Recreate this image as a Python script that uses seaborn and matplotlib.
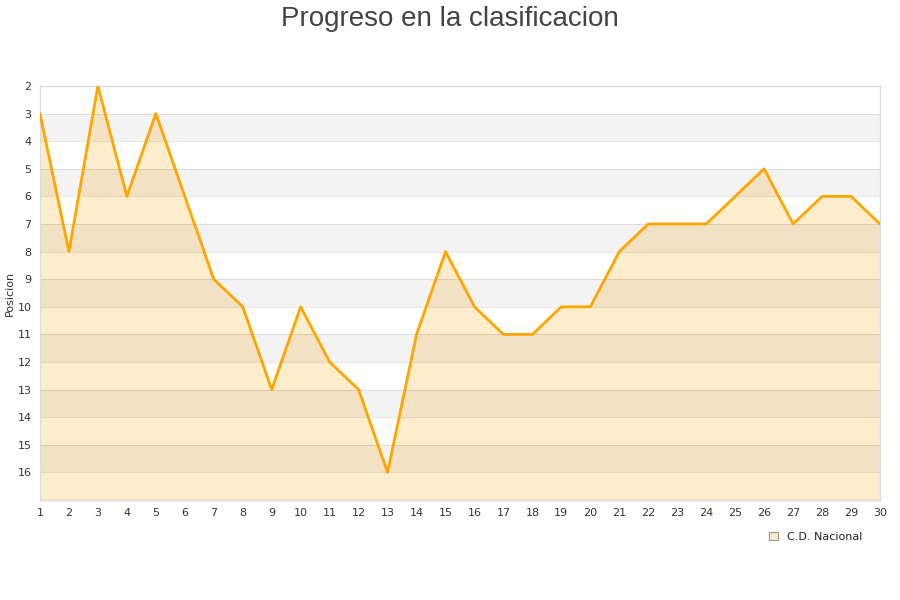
import matplotlib
matplotlib.use("Agg")
import matplotlib.pyplot as plt
import seaborn as sns
import pandas as pd

# Datos de la clasificacion por jornada
jornadas = list(range(1, 31))
posiciones = [3, 8, 2, 6, 3, 6, 9, 10, 13, 10, 12, 13, 16, 11, 8,
              10, 11, 11, 10, 10, 8, 7, 7, 7, 6, 5, 7, 6, 6, 7]
equipo = "C.D. Nacional"

df = pd.DataFrame({"jornada": jornadas, "posicion": posiciones})

sns.set_style("white")
plt.rcParams['font.family'] = ['DejaVu Sans']

fig = plt.figure(figsize=(9, 6), dpi=100)
ax = fig.add_axes([0.0444, 0.1667, 0.9334, 0.69])

y_min, y_max = 2, 17

# area bajo la linea
ax.fill_between(df["jornada"], df["posicion"], y_max, color="#feedcc", zorder=1, linewidth=0)

# bandas alternas y lineas de la rejilla
for y in range(3, y_max, 2):
    ax.axhspan(y, y + 1, color="black", alpha=0.047, linewidth=0, zorder=2)
for y in range(3, y_max):
    ax.axhline(y, color="black", alpha=0.09, linewidth=0.8, zorder=2)

sns.lineplot(data=df, x="jornada", y="posicion", color="#ffa500", linewidth=2.0, ax=ax, zorder=3)

ax.set_xlim(1, 30)
ax.set_ylim(y_max, y_min)
ax.set_xticks(jornadas)
ax.set_yticks(range(2, 17))
ax.tick_params(axis="both", labelsize=8, colors="#333333", length=0, pad=6)
ax.set_xlabel("")
ax.set_ylabel("Posicion", fontsize=8, color="#333333", labelpad=2)
for s in ax.spines.values():
    s.set_color("#dddddd")
    s.set_linewidth(1)

fig.suptitle("Progreso en la clasificacion", fontsize=20, color="#444444", y=0.99,
             family=["Liberation Sans", "DejaVu Sans"])

# leyenda
handle = plt.Rectangle((0, 0), 1, 1, facecolor="#feedcc", edgecolor="#999999", linewidth=0.8)
fig.legend([handle], [equipo], loc="center", bbox_to_anchor=(0.906, 0.105),
           frameon=False, fontsize=8, handlelength=0.8, handleheight=0.8, handletextpad=0.8,
           labelcolor="#222222")

fig.savefig("out.png", dpi=100)
